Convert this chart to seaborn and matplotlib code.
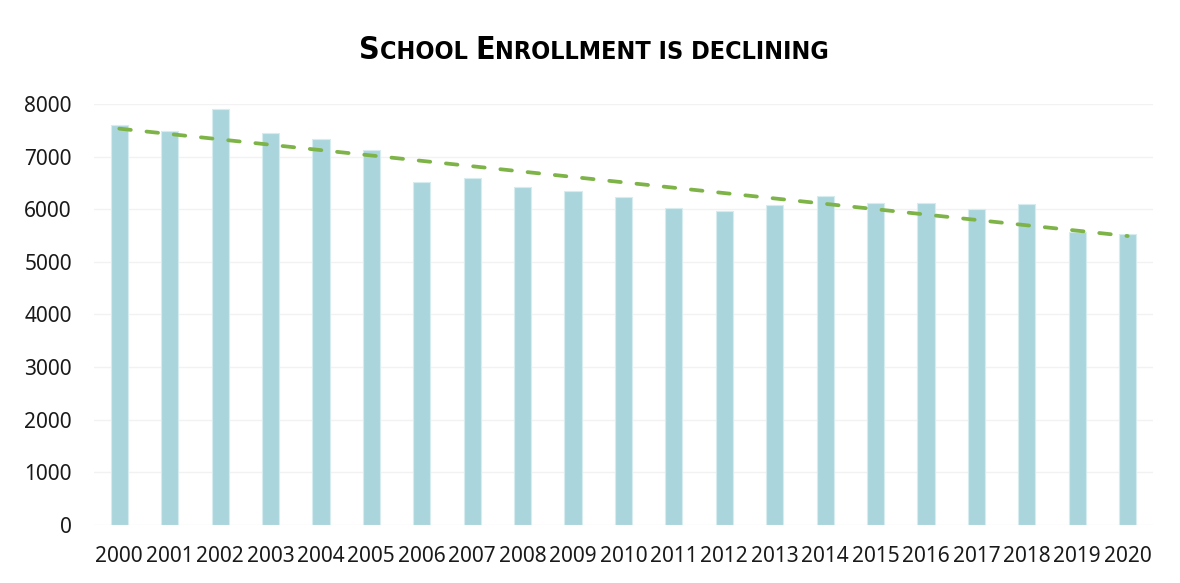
import numpy as np
import pandas as pd
import matplotlib
matplotlib.use("Agg")
import matplotlib.pyplot as plt
import seaborn as sns

# Values
years = [str(y) for y in range(2000, 2021)]
enrollment = [7600, 7490, 7900, 7450, 7330, 7120, 6510, 6590, 6420, 6340, 6230,
              6020, 5970, 6080, 6250, 6120, 6110, 6010, 6100, 5570, 5530]
y_ticks = [0, 1000, 2000, 3000, 4000, 5000, 6000, 7000, 8000]

title_parts = [("S", "big"), ("CHOOL ", "small"), ("E", "big"),
               ("NROLLMENT IS DECLINING", "small")]

data = pd.DataFrame({"year": years, "enrollment": enrollment})

sns.set_style("white")
plt.rcParams['font.family'] = ['Noto Sans', 'DejaVu Sans']

fig = plt.figure(figsize=(11.8, 5.83), dpi=100)
ax = fig.add_axes([0.0797, 0.0995, 0.8973, 0.7221])

sns.barplot(data=data, x="year", y="enrollment", color="#abd5dc", saturation=1,
            width=0.34, edgecolor="#d6ecef", linewidth=0.8, ax=ax)

# linear trendline (like the spreadsheet trendline)
idx = np.arange(len(years))
slope, intercept = np.polyfit(idx, enrollment, 1)
ax.plot(idx, slope * idx + intercept, color="#7db347", linewidth=2.7,
        dashes=(3.1, 4.2), dash_capstyle="round", zorder=3)

ax.set_xlim(-0.5, len(years) - 0.5)
ax.set_ylim(0, 8000)
ax.set_yticks(y_ticks)
ax.yaxis.grid(True, color="#f2f2f2", linewidth=1)
ax.set_axisbelow(True)
sns.despine(ax=ax, left=True, bottom=True)
ax.tick_params(axis="both", length=0, labelsize=15, colors="#1a1a1a")
ax.tick_params(axis="x", pad=15)
ax.tick_params(axis="y", pad=16)
ax.set_xlabel("")
ax.set_ylabel("")

# small-caps title built from pieces
fig.canvas.draw()
renderer = fig.canvas.get_renderer()
sizes = {"big": 23, "small": 18}
texts = []
for txt, kind in title_parts:
    t = fig.text(0, 0.898, txt, fontsize=sizes[kind], fontweight="bold",
                 fontstretch="condensed", family=['DejaVu Sans'], color="black",
                 ha="left", va="baseline")
    texts.append(t)
widths = [t.get_window_extent(renderer).width for t in texts]
total = sum(widths)
x = (fig.bbox.width - total) / 2 + 4
for t, w in zip(texts, widths):
    t.set_x(x / fig.bbox.width)
    x += w

fig.savefig("out.png", dpi=100)
